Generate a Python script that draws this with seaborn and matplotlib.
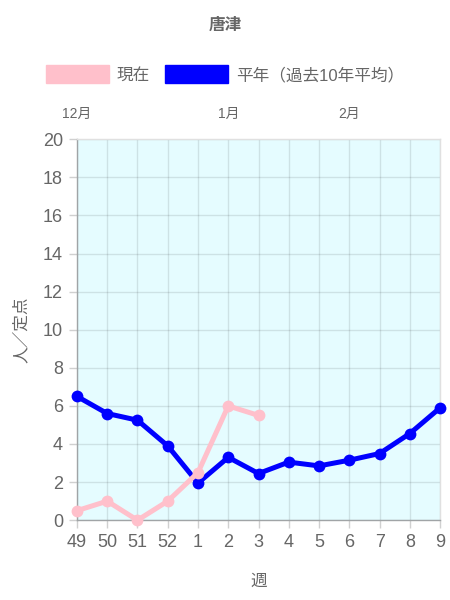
import matplotlib
matplotlib.use("Agg")
import matplotlib.pyplot as plt
from matplotlib.patches import Patch
import seaborn as sns
import pandas as pd

weeks = ["49", "50", "51", "52", "1", "2", "3", "4", "5", "6", "7", "8", "9"]
current = [0.5, 1.0, 0.0, 1.0, 2.5, 6.0, 5.5]
normal = [6.5, 5.6, 5.25, 3.9, 1.95, 3.3, 2.45, 3.05, 2.85, 3.15, 3.5, 4.55, 5.9]
month_labels = ["12月", "1月", "2月"]
month_weeks = ["49", "2", "6"]
yticks = [0, 2, 4, 6, 8, 10, 12, 14, 16, 18, 20]

sns.set_theme(style="white")
plt.rcParams["font.family"] = ["Liberation Sans", "Noto Sans CJK JP", "DejaVu Sans"]

df_norm = pd.DataFrame({"x": range(len(normal)), "y": normal})
df_cur = pd.DataFrame({"x": range(len(current)), "y": current})

fig = plt.figure(figsize=(4.5, 6), dpi=100)
ax = fig.add_axes([0.171, 0.133, 0.807, 0.635])
ax.set_facecolor("#e5fcff")

grey = "#666666"
sns.lineplot(data=df_norm, x="x", y="y", ax=ax, color="#0000ff", linewidth=3.6,
             marker="o", markersize=8.5, markeredgewidth=0, clip_on=False, zorder=3)
sns.lineplot(data=df_cur, x="x", y="y", ax=ax, color="#ffc0cb", linewidth=3.6,
             marker="o", markersize=8.5, markeredgewidth=0, clip_on=False, zorder=4)

ax.set_xlim(0, len(weeks) - 1)
ax.set_ylim(0, 20)
ax.set_xticks(range(len(weeks)))
ax.set_xticklabels(weeks)
ax.set_yticks(yticks)
ax.set_yticklabels([str(v) for v in yticks])
ax.grid(True, color="#000000", alpha=0.1, linewidth=1)
ax.tick_params(axis="both", colors="#d0d0d0", labelcolor=grey, labelsize=13,
               length=6, width=1, direction="out", pad=4)
ax.tick_params(axis="both", which="both", bottom=True, left=True)
for s in ["top", "right"]:
    ax.spines[s].set_color("#e0e0e0")
    ax.spines[s].set_linewidth(1)
for s in ["left", "bottom"]:
    ax.spines[s].set_color("#a0a4a6")
    ax.spines[s].set_linewidth(1)

ax.set_xlabel("週", color=grey, fontsize=12, labelpad=16)
ax.set_ylabel("人／定点", color=grey, fontsize=12, labelpad=10)

sec = ax.secondary_xaxis("top")
sec.set_xticks([weeks.index(w) for w in month_weeks])
sec.set_xticklabels(month_labels)
sec.tick_params(length=0, labelcolor=grey, labelsize=10, pad=13)
sec.spines["top"].set_visible(False)

fig.text(0.5, 0.958, "唐津", ha="center", va="center", fontsize=12,
         fontweight="bold", color=grey)

handles = [Patch(facecolor="#ffc0cb", edgecolor="#ffc0cb", label="現在"),
           Patch(facecolor="#0000ff", edgecolor="#0000ff", label="平年（過去10年平均）")]
fig.legend(handles=handles, loc="center", bbox_to_anchor=(0.5, 0.876), ncol=2,
           frameon=False, fontsize=12, handlelength=3.8, handleheight=1.3,
           handletextpad=0.45, columnspacing=0.9, labelcolor=grey)

fig.savefig("out.png", dpi=100)
